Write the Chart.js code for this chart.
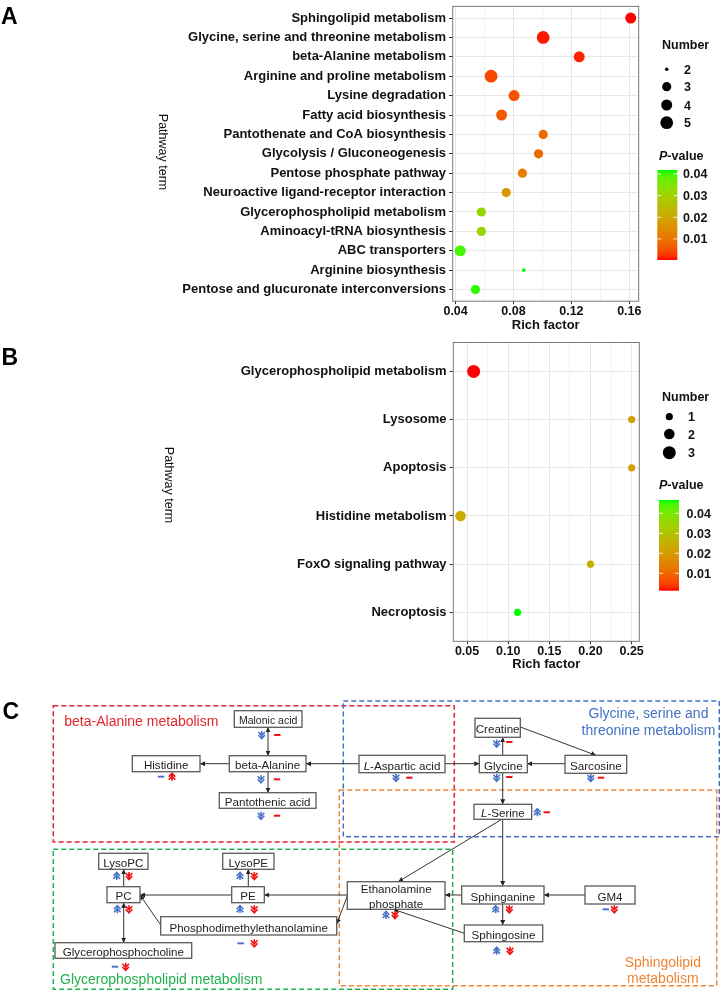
<!DOCTYPE html>
<html>
<head>
<meta charset="utf-8">
<script src="https://cdn.jsdelivr.net/npm/chart.js@4.4.0/dist/chart.umd.min.js"></script>
<style>
html, body { margin: 0; padding: 0; background: #fff; }
body { width: 721px; height: 991px; position: relative; overflow: hidden; font-family: "Liberation Sans", Arial, sans-serif; }
.wrap { position: absolute; left: 0; width: 721px; }
#overlay { position: absolute; left: 0; top: 0; }
</style>
</head>
<body>
<div class="wrap" style="top:0;height:335px"><canvas id="chartA"></canvas></div>
<div class="wrap" style="top:336px;height:338px"><canvas id="chartB"></canvas></div>
<svg id="overlay" width="721" height="991" xmlns="http://www.w3.org/2000/svg"><defs id="defs"></defs></svg>
<script>
// ---- panel A data ----
const pathwaysA = ['Sphingolipid metabolism', 'Glycine, serine and threonine metabolism', 'beta-Alanine metabolism',
  'Arginine and proline metabolism', 'Lysine degradation', 'Fatty acid biosynthesis', 'Pantothenate and CoA biosynthesis',
  'Glycolysis / Gluconeogenesis', 'Pentose phosphate pathway', 'Neuroactive ligand-receptor interaction',
  'Glycerophospholipid metabolism', 'Aminoacyl-tRNA biosynthesis', 'ABC transporters', 'Arginine biosynthesis',
  'Pentose and glucuronate interconversions'];
const richA = [0.161, 0.1005, 0.1254, 0.0645, 0.0804, 0.0718, 0.1005, 0.0973, 0.0862, 0.075, 0.0578, 0.0578, 0.0432, 0.0871, 0.0537];
const countA = [4, 5, 4, 5, 4, 4, 3, 3, 3, 3, 3, 3, 4, 2, 3];
const pvalA = [0.0003, 0.0008, 0.0015, 0.004, 0.0055, 0.0065, 0.0085, 0.009, 0.012, 0.017, 0.031, 0.031, 0.040, 0.0418, 0.041];
const xGridA = [0.04, 0.06, 0.08, 0.10, 0.12, 0.14, 0.16];
const xLabelsA = [0.04, 0.08, 0.12, 0.16];
const sizeLegendA = [2, 3, 4, 5];

// ---- panel B data ----
const pathwaysB = ['Glycerophospholipid metabolism', 'Lysosome', 'Apoptosis', 'Histidine metabolism', 'FoxO signaling pathway', 'Necroptosis'];
const richB = [0.058, 0.25, 0.25, 0.0421, 0.20, 0.1114];
const countB = [3, 1, 1, 2, 1, 1];
const pvalB = [0.0013, 0.021, 0.021, 0.024, 0.025, 0.0467];
const xGridB = [0.05, 0.075, 0.10, 0.125, 0.15, 0.175, 0.20, 0.225, 0.25];
const xLabelsB = [0.05, 0.10, 0.15, 0.20, 0.25];
const sizeLegendB = [1, 2, 3];

const pTicks = [0.01, 0.02, 0.03, 0.04];

// point radius (px) for each gene count
const radiusA = {2: 1.8, 3: 4.6, 4: 5.5, 5: 6.4};
const radiusB = {1: 3.6, 2: 5.3, 3: 6.5};

const FONT = '"Liberation Sans", Arial, sans-serif';

// red -> green through Lab, like ggplot's gradient
const LAB_RED = [53.2408, 80.0925, 67.2032];
const LAB_GREEN = [87.7347, -86.1827, 83.1793];
function labToRgb(L, a, b) {
  let y = (L + 16) / 116, x = a / 500 + y, z = y - b / 200;
  const f = t => t * t * t > 0.008856 ? t * t * t : (t - 16 / 116) / 7.787;
  x = 0.95047 * f(x); y = f(y); z = 1.08883 * f(z);
  const r = x * 3.2406 - y * 1.5372 - z * 0.4986;
  const g = -x * 0.9689 + y * 1.8758 + z * 0.0415;
  const bl = x * 0.0557 - y * 0.2040 + z * 1.0570;
  const gam = c => c > 0.0031308 ? 1.055 * Math.pow(c, 1 / 2.4) - 0.055 : 12.92 * c;
  return [r, g, bl].map(c => Math.round(Math.max(0, Math.min(1, gam(c))) * 255));
}
function pColor(t) {
  t = Math.max(0, Math.min(1, t));
  const lab = LAB_RED.map((v, i) => v + (LAB_GREEN[i] - v) * t);
  const c = labToRgb(...lab);
  return `rgb(${c[0]},${c[1]},${c[2]})`;
}

const near = (list, v) => list.some(m => Math.abs(m - v) < 1e-7);

// panel frame like theme_bw
const framePlugin = {
  id: 'frame',
  afterDraw(chart) {
    const {ctx, chartArea: a} = chart;
    ctx.save();
    ctx.strokeStyle = '#7a7a7a';
    ctx.lineWidth = 1;
    ctx.strokeRect(a.left, a.top, a.right - a.left, a.bottom - a.top);
    ctx.restore();
  }
};

function bubbleChart(id, cfg) {
  const pmin = Math.min(...cfg.pvals), pmax = Math.max(...cfg.pvals);
  const points = cfg.names.map((n, i) => ({x: cfg.rich[i], y: i, r: cfg.radius[cfg.counts[i]]}));
  const colors = cfg.pvals.map(p => pColor((p - pmin) / (pmax - pmin)));
  return new Chart(document.getElementById(id), {
    type: 'bubble',
    data: {datasets: [{data: points, backgroundColor: colors, borderWidth: 0, hoverBorderWidth: 0, clip: false}]},
    options: {
      animation: false, responsive: true, maintainAspectRatio: false, events: [],
      layout: {padding: cfg.padding},
      plugins: {legend: {display: false}, tooltip: {enabled: false}},
      scales: {
        x: {
          type: 'linear', min: cfg.xMin, max: cfg.xMax,
          afterBuildTicks: s => { s.ticks = cfg.xGrid.map(v => ({value: v})); },
          afterFit: s => { s.height = cfg.xAxisH; s.paddingLeft = 0; s.paddingRight = 0; },
          ticks: {
            autoSkip: false, maxRotation: 0, padding: 0, color: '#111',
            font: {family: FONT, size: 12.5, weight: 'bold'},
            callback: v => near(cfg.xLabels, v) ? v.toFixed(2) : ''
          },
          grid: {
            color: c => near(cfg.xLabels, c.tick ? c.tick.value : 0) ? '#e6e6e6' : '#efefef',
            lineWidth: c => near(cfg.xLabels, c.tick ? c.tick.value : 0) ? 1 : 0.8,
            tickColor: c => near(cfg.xLabels, c.tick ? c.tick.value : 0) ? '#333' : 'rgba(0,0,0,0)',
            tickLength: 3
          },
          border: {display: false},
          title: {display: true, text: 'Rich factor', color: '#111', font: {family: FONT, size: 13, weight: 'bold'}, padding: {top: 0, bottom: cfg.titlePad}}
        },
        y: {
          type: 'linear', reverse: true, min: -0.6, max: cfg.names.length - 0.4,
          afterBuildTicks: s => { s.ticks = cfg.names.map((n, i) => ({value: i})); },
          afterFit: s => { s.width = cfg.yAxisW; s.paddingTop = 0; s.paddingBottom = 0; },
          ticks: {autoSkip: false, padding: 3, color: '#111', font: {family: FONT, size: 13, weight: 'bold'}, callback: v => cfg.names[v]},
          grid: {color: '#e8e8e8', lineWidth: 1, tickColor: '#333', tickLength: 3.7},
          border: {display: false}
        }
      }
    },
    plugins: [framePlugin]
  });
}

bubbleChart('chartA', {
  names: pathwaysA, rich: richA, counts: countA, pvals: pvalA, radius: radiusA,
  xGrid: xGridA, xLabels: xLabelsA, xMin: 0.038, xMax: 0.1665,
  padding: {top: 0.8, right: 82.3, left: 0, bottom: 0}, yAxisW: 452.7, xAxisH: 33.8, titlePad: 1.5
});
bubbleChart('chartB', {
  names: pathwaysB, rich: richB, counts: countB, pvals: pvalB, radius: radiusB,
  xGrid: xGridB, xLabels: xLabelsB, xMin: 0.0333, xMax: 0.2593,
  padding: {top: 5, right: 81.7, left: 0, bottom: 0}, yAxisW: 453.3, xAxisH: 32.7, titlePad: 2
});

// ---- svg helpers ----
const NS = 'http://www.w3.org/2000/svg';
const svg = document.getElementById('overlay');
const defs = document.getElementById('defs');
function el(tag, attrs, parent) {
  const e = document.createElementNS(NS, tag);
  for (const k in attrs) e.setAttribute(k, attrs[k]);
  (parent || svg).appendChild(e);
  return e;
}
function txt(x, y, s, attrs) {
  const t = el('text', Object.assign({x: x, y: y, 'font-family': FONT}, attrs));
  t.textContent = s;
  return t;
}

// panel letters and rotated axis titles
txt(1, 23.5, 'A', {'font-size': 23, 'font-weight': 'bold', fill: '#000'});
txt(1.5, 365, 'B', {'font-size': 23, 'font-weight': 'bold', fill: '#000'});
txt(2.5, 718.5, 'C', {'font-size': 23, 'font-weight': 'bold', fill: '#000'});
txt(0, 0, 'Pathway term', {'font-size': 12.5, fill: '#111', 'text-anchor': 'middle', 'dominant-baseline': 'central', transform: 'translate(163,152) rotate(90)'});
txt(0, 0, 'Pathway term', {'font-size': 12.5, fill: '#111', 'text-anchor': 'middle', 'dominant-baseline': 'central', transform: 'translate(169,485) rotate(90)'});

// ---- legends ----
function legend(o) {
  const bold = {'font-size': 12.5, 'font-weight': 'bold', fill: '#111'};
  txt(o.x, o.titleY, 'Number', bold);
  o.sizes.forEach((n, i) => {
    el('circle', {cx: o.dotX, cy: o.dotY[i], r: o.radius[n], fill: '#000'});
    txt(o.numX, o.dotY[i] + 4.5, String(n), bold);
  });
  const t = el('text', Object.assign({x: o.x - 3, y: o.pTitleY, 'font-family': FONT}, bold));
  const it = el('tspan', {'font-style': 'italic'}, t); it.textContent = 'P';
  const rest = el('tspan', {}, t); rest.textContent = '-value';
  const pmin = Math.min(...o.pvals), pmax = Math.max(...o.pvals);
  const grad = el('linearGradient', {id: o.id, x1: 0, y1: 1, x2: 0, y2: 0}, defs);
  for (let k = 0; k <= 20; k++) el('stop', {offset: k / 20, 'stop-color': pColor(k / 20)}, grad);
  el('rect', {x: o.barX, y: o.barTop, width: 20, height: o.barH, fill: `url(#${o.id})`});
  pTicks.forEach(v => {
    const y = o.barTop + o.barH - (v - pmin) / (pmax - pmin) * o.barH;
    el('line', {x1: o.barX, x2: o.barX + 4, y1: y, y2: y, stroke: '#fff', 'stroke-width': 0.8});
    el('line', {x1: o.barX + 16, x2: o.barX + 20, y1: y, y2: y, stroke: '#fff', 'stroke-width': 0.8});
    txt(o.labX, y + 4.5, v.toFixed(2), bold);
  });
}
legend({id: 'gA', x: 662, titleY: 48.5, sizes: sizeLegendA, radius: radiusA, dotX: 666.7, dotY: [69.3, 86.7, 105, 122.7], numX: 684,
  pTitleY: 159.5, pvals: pvalA, barX: 657.3, barTop: 170, barH: 90, labX: 683});
legend({id: 'gB', x: 662, titleY: 400.5, sizes: sizeLegendB, radius: radiusB, dotX: 669.3, dotY: [416.7, 434, 452.7], numX: 688,
  pTitleY: 488.5, pvals: pvalB, barX: 659, barTop: 500, barH: 90.7, labX: 686.5});

// ---- panel C: pathway map ----
const regions = [
  {x: 53.3, y: 705.7, w: 401, h: 136.3, c: '#e3262d'},
  {x: 343.3, y: 701, w: 376, h: 135.7, c: '#4472c4'},
  {x: 339.3, y: 790, w: 377.4, h: 195.7, c: '#f08434'},
  {x: 53.3, y: 849.3, w: 399.4, h: 140, c: '#22b14c'}
];
regions.forEach(r => el('rect', {x: r.x, y: r.y, width: r.w, height: r.h, fill: 'none', stroke: r.c, 'stroke-width': 1.5, 'stroke-dasharray': '5 3'}));

txt(64.3, 725.5, 'beta-Alanine metabolism', {'font-size': 14, fill: '#e3262d'});
txt(648.5, 718.3, 'Glycine, serine and', {'font-size': 14, fill: '#4472c4', 'text-anchor': 'middle'});
txt(648.5, 735, 'threonine metabolism', {'font-size': 14, fill: '#4472c4', 'text-anchor': 'middle'});
txt(662.8, 966.7, 'Sphingolipid', {'font-size': 14, fill: '#f08434', 'text-anchor': 'middle'});
txt(662.8, 983.3, 'metabolism', {'font-size': 14, fill: '#f08434', 'text-anchor': 'middle'});
txt(60, 984, 'Glycerophospholipid metabolism', {'font-size': 14, fill: '#22b14c'});

// arrow markers
const mk = el('marker', {id: 'ah', viewBox: '0 0 10 10', refX: 10, refY: 5, markerWidth: 5, markerHeight: 5, orient: 'auto-start-reverse', markerUnits: 'userSpaceOnUse'}, defs);
el('path', {d: 'M0,0 L10,5 L0,10 z', fill: '#222'}, mk);

// [x1, y1, x2, y2, double-headed]
const edges = [
  [268, 727.3, 268, 755.7, true], [229.3, 763.7, 200, 763.7], [268, 771.7, 268, 792.7],
  [359, 763.7, 306, 763.7], [445, 763.7, 479.3, 763.7], [502.7, 755.3, 502.7, 737.3],
  [520.3, 727, 596, 755.3], [565, 763.7, 527.3, 763.7], [502.7, 772.7, 502.7, 804.3],
  [501.7, 819.3, 398.3, 881.7], [502.7, 819.3, 502.7, 886], [461.7, 895, 445, 895],
  [585, 895, 544, 895], [502.7, 904, 502.7, 925], [464.3, 933.3, 393.3, 909.3],
  [347.3, 895, 264.3, 895], [347.3, 896, 336.7, 924], [231.7, 895, 140, 895],
  [248.3, 886.7, 248.3, 869.3], [123.7, 886.7, 123.7, 869.3], [160.7, 925, 140, 895],
  [123.7, 902.7, 123.7, 942.7, true]
];
edges.forEach(e => {
  const a = {x1: e[0], y1: e[1], x2: e[2], y2: e[3], stroke: '#333', 'stroke-width': 1, 'marker-end': 'url(#ah)'};
  if (e[4]) a['marker-start'] = 'url(#ah)';
  el('line', a);
});

// metabolite boxes: [label, left, top, right, bottom, font size]
const nodes = [
  ['Malonic acid', 234.3, 710.7, 302, 727.3, 10.5], ['Histidine', 132.3, 755.7, 200, 771.7],
  ['beta-Alanine', 229.3, 755.7, 306, 771.7], ['Pantothenic acid', 219.3, 792.7, 316, 808.3],
  ['LysoPC', 98.7, 853.3, 148, 869.3], ['LysoPE', 222.7, 853.3, 274, 869.3],
  ['PC', 107, 886.7, 140, 902.7], ['PE', 231.7, 886.7, 264.3, 902.7],
  ['Phosphodimethylethanolamine', 160.7, 916.7, 336.7, 935], ['Glycerophosphocholine', 55, 942.7, 191.7, 958.3],
  ['Creatine', 475, 718.3, 520.3, 737.3], ['*L*-Aspartic acid', 359, 755.3, 445, 772.7],
  ['Glycine', 479.3, 755.3, 527.3, 772.7], ['Sarcosine', 565, 755.3, 626.7, 773.3],
  ['*L*-Serine', 474, 804.3, 531.7, 819.3], ['Ethanolamine|phosphate', 347.3, 881.7, 445, 909.3],
  ['Sphinganine', 461.7, 886, 544, 904], ['GM4', 585, 886, 635, 904], ['Sphingosine', 464.3, 925, 542.7, 941.7]
];
nodes.forEach(n => {
  const [label, l, t, r, b] = n;
  const fs = n[5] || 11.6;
  el('rect', {x: l, y: t, width: r - l, height: b - t, fill: '#fff', stroke: '#5a5a5a', 'stroke-width': 1.3});
  const lines = label.split('|');
  const cx = (l + r) / 2;
  lines.forEach((ln, i) => {
    const cy = lines.length === 1 ? (t + b) / 2 + 1.5 : t + 7.5 + i * 15;
    const te = el('text', {x: cx, y: cy + fs * 0.36, 'font-family': FONT, 'font-size': fs, fill: '#222', 'text-anchor': 'middle'});
    ln.split('*').forEach((part, j) => {
      if (!part) return;
      const sp = el('tspan', j % 2 ? {'font-style': 'italic'} : {}, te);
      sp.textContent = part;
    });
  });
});

// change marks under each metabolite: [x, y, kind]
const marks = [
  [261.7, 735, 'bd'], [277.3, 735, 'r-'], [261, 779.3, 'bd'], [277, 779.3, 'r-'],
  [161, 776.7, 'b-'], [172, 776.7, 'ru'], [261, 815.7, 'bd'], [277, 815.7, 'r-'],
  [116.7, 876, 'bu'], [129, 876, 'rd'], [240, 876, 'bu'], [254.3, 876, 'rd'],
  [117.3, 909.3, 'bu'], [129, 909.3, 'rd'], [240, 909.3, 'bu'], [254.3, 909.3, 'rd'],
  [240.7, 943.3, 'b-'], [254.3, 943.3, 'rd'], [115, 966.7, 'b-'], [125.7, 966.7, 'rd'],
  [496.7, 743.5, 'bd'], [509.3, 742, 'r-'], [396, 777.7, 'bd'], [409.3, 777.7, 'r-'],
  [496.7, 777.7, 'bd'], [509.3, 777, 'r-'], [590.7, 778, 'bd'], [601, 777.7, 'r-'],
  [537.3, 812.3, 'bu'], [546.7, 812.3, 'r-'], [386, 915, 'bu'], [395, 915, 'rd'],
  [495.7, 909.3, 'bu'], [509.3, 909.3, 'rd'], [605.7, 909.3, 'b-'], [614.3, 909.3, 'rd'],
  [496.7, 950.7, 'bu'], [510, 950.7, 'rd']
];
marks.forEach(([x, y, k]) => {
  const col = k[0] === 'b' ? '#4a74c8' : '#f01414';
  if (k[1] === '-') {
    el('line', {x1: x - 3.2, x2: x + 3.2, y1: y, y2: y, stroke: col, 'stroke-width': 2});
    return;
  }
  const s = k[1] === 'd' ? 1 : -1;
  const g = el('g', {transform: `translate(${x},${y}) scale(1,${s})`, stroke: col, 'stroke-width': 1.6, fill: 'none', 'stroke-linecap': 'butt'});
  el('path', {d: 'M-3.3,-3 L0,0.6 L3.3,-3 M-3.3,0 L0,3.6 L3.3,0 M0,-4 L0,3'}, g);
});
</script>
</body>
</html>
